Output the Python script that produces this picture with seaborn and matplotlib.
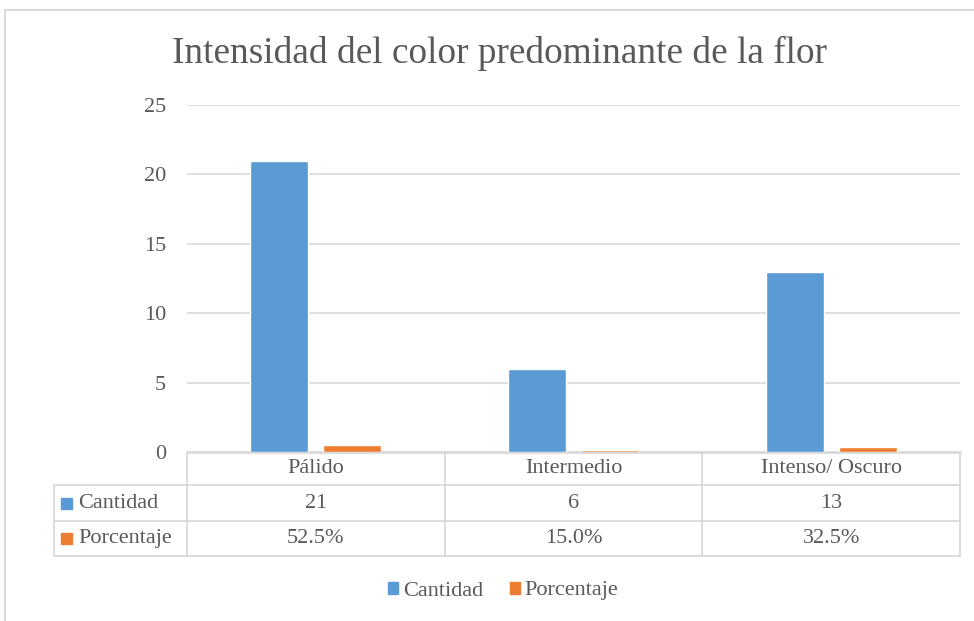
import matplotlib
matplotlib.use("Agg")
import matplotlib.pyplot as plt
import matplotlib.transforms as mtransforms
from matplotlib.patches import Rectangle
import seaborn as sns
import pandas as pd

categorias = ["Pálido", "Intermedio", "Intenso/ Oscuro"]
cantidad = [21, 6, 13]
porcentaje = [0.525, 0.150, 0.325]
series = ["Cantidad", "Porcentaje"]
yticks = [0, 5, 10, 15, 20, 25]
titulo = "Intensidad del color predominante de la flor"

BLUE = "#5B9BD5"
ORANGE = "#ED7D31"
TXT = "#595959"
GRID = "#D9D9D9"

sns.set_theme(style="white")
plt.rcParams["font.family"] = ["Liberation Serif", "DejaVu Serif"]

W, H = 974, 621
fig = plt.figure(figsize=(W / 100, H / 100), dpi=100)
ax = fig.add_axes([187 / W, (H - 452) / H, (960 - 187) / W, (452 - 105) / H])

df = pd.DataFrame({
    "categoria": categorias * 2,
    "serie": [series[0]] * 3 + [series[1]] * 3,
    "valor": cantidad + porcentaje,
})
sns.barplot(data=df, x="categoria", y="valor", hue="serie", order=categorias,
            hue_order=series, palette=[BLUE, ORANGE], width=0.566, gap=0.205,
            saturation=1, ax=ax, legend=False, errorbar=None, zorder=3)

ax.set_xlim(-0.5, 2.5)
ax.set_ylim(0, 25)
ax.set_yticks(yticks)
ax.set_yticklabels([str(t) for t in yticks])
ax.tick_params(axis="y", length=0, pad=15, labelsize=16, labelcolor=TXT)
ax.set_xticks([])
ax.set_xlabel("")
ax.set_ylabel("")
for s in ax.spines.values():
    s.set_visible(False)
for t in yticks[1:]:
    ax.axhline(t, color=GRID, lw=1.2, zorder=0)
ax.axhline(0, color=GRID, lw=2, zorder=1, clip_on=False)

def fy(py):
    return (H - py) / H

# table
tr = mtransforms.blended_transform_factory(ax.transData, fig.transFigure)
trf = fig.transFigure
rows = [452, 485, 521, 556]
lw = 1.3
for py in rows[1:]:
    fig.add_artist(plt.Line2D([54 / W, 187 / W], [fy(py), fy(py)], transform=trf, color=GRID, lw=lw))
    fig.add_artist(plt.Line2D([-0.5, 2.5], [fy(py), fy(py)], transform=tr, color=GRID, lw=lw))
for xb in [-0.5, 0.5, 1.5, 2.5]:
    fig.add_artist(plt.Line2D([xb, xb], [fy(453), fy(556)], transform=tr, color=GRID, lw=lw))
fig.add_artist(plt.Line2D([54 / W, 54 / W], [fy(485), fy(556)], transform=trf, color=GRID, lw=lw))

yc = [(rows[i] + rows[i + 1]) / 2 for i in range(3)]
for i, c in enumerate(categorias):
    fig.text(i, fy(yc[0]), c, transform=tr, ha="center", va="center", fontsize=16, color=TXT)
    fig.text(i, fy(yc[1]), str(cantidad[i]), transform=tr, ha="center", va="center", fontsize=16, color=TXT)
    fig.text(i, fy(yc[2]), f"{porcentaje[i] * 100:.1f}%", transform=tr, ha="center", va="center", fontsize=16, color=TXT)

for k, (name, col) in enumerate(zip(series, [BLUE, ORANGE])):
    cy = yc[k + 1]
    fig.add_artist(Rectangle((61 / W, fy(cy + 5.5)), 11 / W, 11 / H, transform=trf, color=col))
    fig.text(78 / W, fy(cy), name, transform=trf, ha="left", va="center", fontsize=16, color=TXT)

# legend
handles = [Rectangle((0, 0), 1, 1, color=BLUE), Rectangle((0, 0), 1, 1, color=ORANGE)]
fig.legend(handles, series, loc="center", bbox_to_anchor=(503 / W, fy(591)), ncol=2,
           frameon=False, fontsize=16, labelcolor=TXT, handlelength=0.45, handleheight=0.45,
           handletextpad=0.2, columnspacing=1.2)

# title
fig.text(500 / W, fy(53), titulo, ha="center", va="center", fontsize=26.8, color=TXT)

# chart area border
fig.add_artist(Rectangle((5 / W, -0.1), 1.2, fy(10) + 0.1, transform=trf, fill=False,
                         edgecolor=GRID, lw=1.5))

fig.savefig("out.png", dpi=100, facecolor="white")
